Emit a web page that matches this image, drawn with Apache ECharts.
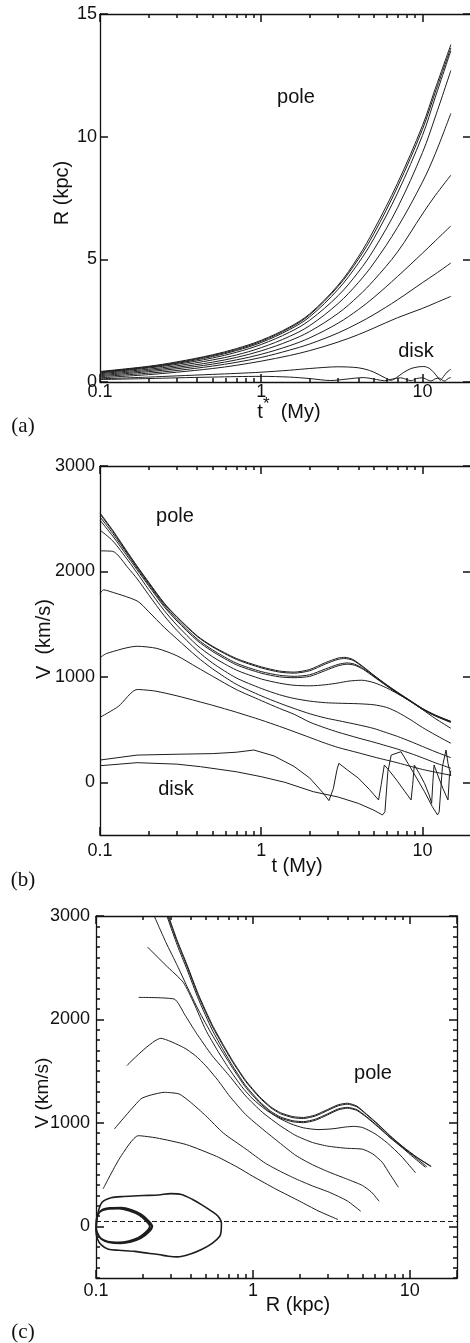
<!DOCTYPE html>
<html>
<head>
<meta charset="utf-8">
<script src="https://cdn.jsdelivr.net/npm/echarts@6/dist/echarts.min.js"></script>
<style>
  html, body { margin: 0; padding: 0; background: #ffffff; }
  #chart { width: 470px; height: 1343px; }
</style>
</head>
<body>
<div id="chart"></div>
<script>
// ---------- (a) distance R (kpc) against time t* (My) ----------
const aT = [0.1, 0.2, 0.3, 0.5, 0.7, 1, 1.5, 2, 3, 4, 5, 7, 10, 12, 15];
const aR1 = [0.43, 0.64, 0.82, 1.11, 1.36, 1.70, 2.24, 2.78, 3.95, 5.10, 6.20, 8.10, 10.45, 11.95, 13.75];
const aR2 = [0.41, 0.62, 0.79, 1.08, 1.32, 1.66, 2.20, 2.74, 3.90, 5.00, 6.05, 7.95, 10.30, 11.80, 13.62];
const aR3 = [0.39, 0.60, 0.76, 1.04, 1.28, 1.61, 2.14, 2.66, 3.78, 4.84, 5.85, 7.70, 10.05, 11.60, 13.50];
const aR4 = [0.37, 0.57, 0.72, 0.98, 1.21, 1.53, 2.03, 2.52, 3.52, 4.48, 5.40, 7.10, 9.35, 10.80, 12.70];
const aR5 = [0.34, 0.52, 0.66, 0.90, 1.10, 1.40, 1.86, 2.30, 3.20, 4.05, 4.85, 6.30, 8.15, 9.30, 10.95];
const aR6 = [0.30, 0.47, 0.60, 0.81, 1.00, 1.27, 1.68, 2.06, 2.80, 3.50, 4.15, 5.30, 6.85, 7.60, 8.43];
const aR7 = [0.26, 0.42, 0.54, 0.73, 0.90, 1.13, 1.48, 1.80, 2.40, 2.95, 3.45, 4.30, 5.25, 5.75, 6.36];
const aR8 = [0.22, 0.36, 0.47, 0.65, 0.80, 1.00, 1.30, 1.55, 2.00, 2.40, 2.75, 3.35, 4.05, 4.40, 4.85];
const aR9 = [0.17, 0.30, 0.40, 0.55, 0.68, 0.85, 1.08, 1.28, 1.63, 1.93, 2.20, 2.62, 3.00, 3.22, 3.49];
const aDisk1 = [[0.1,0.13],[0.2,0.2],[0.3,0.25],[0.5,0.31],[0.7,0.35],[1,0.4],[1.5,0.48],[2,0.55],[3,0.62],[4,0.58],[4.7,0.47],[5.3,0.32],[5.9,0.16],[6.4,0.07],[6.9,0.18],[7.6,0.38],[8.5,0.55],[9.5,0.62],[10.2,0.63],[11,0.56],[11.8,0.38],[12.4,0.2],[12.9,0.07],[13.5,0.22],[14.2,0.4],[15,0.52]];
const aDisk2 = [[0.1,0.1],[0.2,0.14],[0.3,0.17],[0.5,0.2],[0.7,0.22],[1,0.23],[1.5,0.2],[2,0.14],[2.7,0.06],[3.4,0.12],[4.3,0.18],[5.2,0.1],[5.8,0.05],[6.5,0.12],[7.3,0.17],[8,0.1],[8.5,0.05],[9.2,0.14],[10,0.17],[10.8,0.08],[11.3,0.04],[12,0.13],[12.7,0.16],[13.3,0.07],[13.8,0.04],[14.4,0.14],[15,0.18]];

// ---------- (b) velocity V (km/s) against time t (My) ----------
const bPole1 = [[0.1,2555],[0.12,2390],[0.15,2170],[0.17,2050],[0.2,1900],[0.25,1700],[0.3,1570],[0.4,1390],[0.5,1290],[0.7,1175],[1,1095],[1.3,1055],[1.6,1045],[2,1070],[2.5,1135],[3,1178],[3.3,1185],[3.7,1165],[4.3,1095],[5,1015],[6,925],[7,855],[8.5,770],[10,700],[12,638],[15,578]];
const bPole2 = [[0.1,2545],[0.12,2380],[0.15,2162],[0.17,2043],[0.2,1893],[0.25,1694],[0.3,1564],[0.4,1384],[0.5,1283],[0.7,1166],[1,1085],[1.3,1045],[1.6,1035],[2,1058],[2.5,1122],[3,1166],[3.3,1174],[3.7,1157],[4.3,1090],[5,1012],[6,922],[7,852],[8.5,768],[10,698],[12,636],[15,576]];
const bPole3 = [[0.1,2518],[0.12,2360],[0.15,2150],[0.17,2030],[0.2,1880],[0.25,1680],[0.3,1545],[0.4,1360],[0.5,1255],[0.7,1130],[1,1050],[1.3,1015],[1.6,1005],[2,1020],[2.5,1075],[3,1118],[3.4,1132],[3.8,1120],[4.3,1078],[5,1006],[6,918],[7,848],[8.5,765],[10,695],[12,632],[15,572]];
const bPole4 = [[0.1,2486],[0.12,2335],[0.15,2130],[0.17,2015],[0.2,1865],[0.25,1665],[0.3,1530],[0.4,1345],[0.5,1240],[0.7,1115],[1,1035],[1.3,1000],[1.6,992],[2,1005],[2.5,1060],[3,1105],[3.4,1120],[3.8,1110],[4.3,1070],[5,1000],[6,914],[7,844],[8.5,762],[10,692],[12,629],[15,567]];
const bPole5 = [[0.1,2392],[0.12,2290],[0.15,2100],[0.17,1985],[0.2,1830],[0.25,1630],[0.3,1490],[0.4,1300],[0.5,1190],[0.7,1065],[1,980],[1.3,940],[1.6,920],[2,915],[2.5,925],[3,942],[3.5,960],[4.2,968],[5,945],[6,895],[7,840],[8.5,765],[10,690],[12,605],[15,512]];
const bPole6 = [[0.1,2195],[0.12,2190],[0.15,2030],[0.17,1930],[0.2,1780],[0.25,1580],[0.3,1440],[0.4,1250],[0.5,1130],[0.7,990],[1,890],[1.3,830],[1.6,795],[2,770],[2.5,755],[3,750],[4,745],[5,735],[6,710],[7,665],[8.5,590],[10,520],[12,450],[15,370]];
const bPole7 = [[0.1,1790],[0.105,1825],[0.11,1820],[0.17,1720],[0.2,1620],[0.25,1470],[0.3,1360],[0.4,1190],[0.5,1075],[0.7,930],[1,820],[1.3,750],[1.6,700],[2,650],[2.5,610],[3,585],[4,545],[5,510],[6,470],[7,435],[8.5,385],[10,340],[12,290],[15,233]];
const bPole8 = [[0.1,1181],[0.11,1222],[0.17,1290],[0.225,1270],[0.3,1200],[0.4,1090],[0.5,1005],[0.7,880],[1,775],[1.3,700],[1.6,645],[2,570],[2.5,515],[3,475],[4,420],[5,380],[6,345],[7,315],[8.5,272],[10,232],[12,185],[15,133]];
const bPole9 = [[0.1,616],[0.13,720],[0.17,880],[0.22,865],[0.3,820],[0.4,770],[0.5,730],[0.7,665],[1,590],[1.3,530],[1.6,480],[2,425],[2.5,370],[3,330],[4,280],[5,240],[6,210],[7,185],[8.5,150],[10,122],[12,96],[15,66]];
const bDisk1 = [[0.1,211],[0.17,258],[0.3,266],[0.5,272],[0.7,285],[0.9,306],[1.2,250],[1.6,150],[2,40],[2.4,-95],[2.63,-174],[2.8,-60],[2.95,120],[3.03,180],[3.4,120],[4,40],[4.7,-70],[5.34,-168],[5.55,-20],[5.8,164],[6.3,100],[7,10],[7.8,-90],[8.5,-168],[8.7,-20],[8.9,164],[9.5,90],[10.3,-10],[11,-120],[11.4,-200],[11.6,0],[11.8,164],[12.5,60],[13.4,-60],[14.4,-168],[14.7,60],[15,110]];
const bDisk2 = [[0.1,157],[0.17,186],[0.3,172],[0.42,148],[0.7,100],[1,53],[1.4,0],[2.1,-89],[3,-140],[4,-200],[5,-265],[5.65,-310],[5.85,-280],[6.1,100],[6.4,258],[7.36,290],[8.2,170],[9.2,40],[10.3,-90],[11.5,-230],[12.4,-310],[12.7,-280],[13.3,150],[14,306],[14.4,180],[15,60]];

// ---------- (c) velocity V (km/s) against distance R (kpc) ----------
const cPole1 = [[0.29,3000],[0.33,2760],[0.38,2530],[0.45,2240],[0.55,1950],[0.65,1750],[0.75,1590],[0.9,1410],[1.1,1255],[1.3,1155],[1.5,1098],[1.8,1060],[2.1,1052],[2.5,1076],[3,1130],[3.5,1175],[4,1190],[4.6,1162],[5.3,1085],[6.3,985],[7.5,875],[9,772],[11,672],[13.7,580]];
const cPole2 = [[0.287,3000],[0.33,2745],[0.38,2515],[0.45,2225],[0.55,1935],[0.65,1737],[0.75,1578],[0.9,1400],[1.1,1245],[1.3,1146],[1.5,1088],[1.8,1050],[2.1,1042],[2.5,1066],[3,1120],[3.5,1165],[4,1180],[4.6,1155],[5.3,1080],[6.3,980],[7.5,871],[9,769],[11,669],[13.6,578]];
const cPole3 = [[0.283,3000],[0.33,2715],[0.38,2485],[0.45,2195],[0.55,1900],[0.65,1700],[0.75,1540],[0.9,1360],[1.1,1208],[1.3,1112],[1.5,1057],[1.8,1020],[2.1,1012],[2.5,1035],[3,1088],[3.5,1135],[4,1150],[4.6,1128],[5.3,1060],[6.3,964],[7.5,860],[9,762],[10.8,668],[12.9,574]];
const cPole4 = [[0.235,3000],[0.28,2740],[0.33,2520],[0.38,2320],[0.45,2090],[0.55,1850],[0.65,1670],[0.75,1520],[0.9,1343],[1.1,1195],[1.3,1100],[1.5,1046],[1.8,1010],[2.1,1002],[2.5,1025],[3,1078],[3.5,1125],[4,1142],[4.6,1120],[5.3,1054],[6.3,958],[7.5,855],[9,757],[10.6,664],[12.6,570]];
const cPole5 = [[0.213,2700],[0.28,2520],[0.36,2358],[0.42,2160],[0.5,1900],[0.6,1690],[0.7,1530],[0.85,1350],[1,1230],[1.2,1130],[1.45,1050],[1.75,990],[2.1,952],[2.6,935],[3.2,942],[3.9,960],[4.4,966],[5,955],[6,895],[7.2,805],[8.8,680],[10.9,516]];
const cPole6 = [[0.187,2213],[0.315,2197],[0.37,2040],[0.433,1875],[0.55,1650],[0.707,1456],[0.9,1260],[1.15,1102],[1.5,970],[1.88,877],[2.4,810],[3,775],[3.9,755],[5,745],[5.8,700],[6.67,619],[7.5,500],[8.47,377]];
const cPole7 = [[0.157,1553],[0.259,1817],[0.36,1730],[0.43,1650],[0.5,1553],[0.6,1410],[0.707,1263],[0.9,1080],[1.15,941],[1.5,800],[1.88,684],[2.4,595],[3.07,523],[4,455],[5,394],[5.7,330],[6.38,242]];
const cPole8 = [[0.131,941],[0.193,1231],[0.225,1270],[0.272,1295],[0.339,1279],[0.4,1200],[0.5,1070],[0.65,900],[0.9,748],[1.2,610],[1.5,530],[1.88,458],[2.4,390],[3.07,329],[4,245],[4.87,145]];
const cPole9 = [[0.111,362],[0.142,661],[0.186,876],[0.244,854],[0.378,789],[0.586,676],[0.8,570],[1,483],[1.4,360],[1.99,242],[2.6,150],[3.49,65]];
const cDiskOuter = [[0.101,40],[0.103,130],[0.109,230],[0.125,275],[0.15,288],[0.2,297],[0.25,303],[0.3,316],[0.35,308],[0.41,262],[0.47,210],[0.55,142],[0.6,97],[0.63,30],[0.628,-40],[0.615,-97],[0.55,-165],[0.47,-225],[0.4,-268],[0.33,-296],[0.29,-290],[0.25,-273],[0.2,-255],[0.177,-243],[0.14,-232],[0.12,-222],[0.108,-180],[0.102,-120],[0.1,-40],[0.101,40]];
const cDiskInner = [[0.1,0],[0.102,90],[0.107,150],[0.12,172],[0.142,177],[0.165,155],[0.191,113],[0.212,55],[0.226,0],[0.214,-55],[0.191,-113],[0.165,-148],[0.142,-161],[0.12,-152],[0.108,-120],[0.102,-60],[0.1,0],
  [0.101,70],[0.106,140],[0.118,166],[0.14,170],[0.162,150],[0.188,108],[0.208,52],[0.22,0],[0.209,-52],[0.187,-108],[0.162,-142],[0.14,-155],[0.119,-147],[0.107,-115],[0.101,-55],[0.1,0],
  [0.101,80],[0.108,155],[0.122,178],[0.145,182],[0.168,160],[0.194,117],[0.215,58],[0.229,0],[0.217,-58],[0.193,-117],[0.167,-152],[0.143,-166],[0.121,-157],[0.108,-124],[0.101,-62],[0.1,0]];
const cZeroLevel = 50;

// ---------- tick values ----------
const vMajorTicks = [0, 1000, 2000, 3000];

const INK = '#111111';
const SANS = '"Liberation Sans", Arial, sans-serif';
const SERIF = '"Liberation Serif", "DejaVu Serif", serif';
const X_MAX = 20;

const chart = echarts.init(document.getElementById('chart'), null, { renderer: 'canvas' });

// every axis gets its own fresh option objects
function tick(len, extra) {
  return Object.assign({ show: true, inside: true, length: len, lineStyle: { color: INK, width: 1.5 } }, extra || {});
}
function minor() {
  return { show: true, splitNumber: 9, length: 4, lineStyle: { color: INK, width: 1.5 } };
}
function frame() { return { show: true, onZero: false, lineStyle: { color: INK, width: 1.3 } }; }
function noGridLines() { return { show: true, lineStyle: { opacity: 0 } }; }
function labels(margin, extra) {
  return Object.assign({ show: true, margin: margin, fontFamily: SANS, fontSize: 18, color: INK,
    formatter: v => String(v) }, extra || {});
}

function xPair(g, labelMargin) {
  return [
    { type: 'log', logBase: 10, gridIndex: g, position: 'bottom', min: 0.1, max: X_MAX,
      axisLine: frame(), splitLine: noGridLines(), axisTick: tick(8), minorTick: minor(),
      axisLabel: labels(labelMargin, { showMaxLabel: false, showMinLabel: true }) },
    { type: 'log', logBase: 10, gridIndex: g, position: 'top', min: 0.1, max: X_MAX,
      axisLine: frame(), splitLine: noGridLines(), axisTick: tick(8), minorTick: minor(),
      axisLabel: { show: false } }
  ];
}

const xAxes = [].concat(xPair(0, 1), xPair(1, 7), xPair(2, 4));

const yAxes = [
  // (a)
  { type: 'value', gridIndex: 0, position: 'left', min: 0, max: 15, interval: 5,
    axisLine: frame(), splitLine: noGridLines(), axisTick: tick(8), axisLabel: labels(3) },
  { type: 'value', gridIndex: 0, position: 'right', min: 0, max: 15, interval: 5,
    axisLine: frame(), splitLine: noGridLines(), axisTick: tick(8), axisLabel: { show: false } },
  // (b)
  { type: 'value', gridIndex: 1, position: 'left', min: -500, max: 3000, interval: 500,
    axisLine: frame(), splitLine: noGridLines(), axisTick: tick(8, { customValues: vMajorTicks }),
    axisLabel: labels(5, { customValues: vMajorTicks }) },
  { type: 'value', gridIndex: 1, position: 'right', min: -500, max: 3000, interval: 500,
    axisLine: frame(), splitLine: noGridLines(), axisTick: tick(8, { customValues: vMajorTicks }),
    axisLabel: { show: false } },
  // (c)
  { type: 'value', gridIndex: 2, position: 'left', min: -500, max: 3000, interval: 500,
    axisLine: frame(), splitLine: noGridLines(), axisTick: tick(8, { customValues: vMajorTicks }),
    axisLabel: labels(6, { customValues: vMajorTicks }) },
  { type: 'value', gridIndex: 2, position: 'right', min: -500, max: 3000, interval: 500,
    axisLine: frame(), splitLine: noGridLines(), axisTick: tick(8, { customValues: vMajorTicks }),
    axisLabel: { show: false } },
  { type: 'value', gridIndex: 2, position: 'left', min: -500, max: 3000, interval: 100,
    axisLine: { show: false, onZero: false }, splitLine: noGridLines(), axisTick: tick(4), axisLabel: { show: false } },
  { type: 'value', gridIndex: 2, position: 'right', min: -500, max: 3000, interval: 100,
    axisLine: { show: false, onZero: false }, splitLine: noGridLines(), axisTick: tick(4), axisLabel: { show: false } }
];

function curve(data, panel, opts) {
  return Object.assign({
    type: 'line', data: data,
    xAxisIndex: panel * 2, yAxisIndex: panel === 0 ? 0 : (panel === 1 ? 2 : 4),
    showSymbol: false, symbol: 'none', silent: true, animation: false,
    lineStyle: { color: '#1d1d1d', width: 1 }, smooth: false
  }, opts || {});
}
const pair = (ts, vs) => ts.map((t, i) => [t, vs[i]]);

const series = [];
[aR1, aR2, aR3, aR4, aR5, aR6, aR7, aR8, aR9].forEach(r => series.push(curve(pair(aT, r), 0, { smooth: 0.35 })));
series.push(curve(aDisk1, 0, { smooth: 0.3 }));
series.push(curve(aDisk2, 0, { smooth: 0.3 }));

[bPole1, bPole2, bPole3, bPole4, bPole5, bPole6, bPole7, bPole8, bPole9].forEach(d => series.push(curve(d, 1, { smooth: 0.25 })));
series.push(curve(bDisk1, 1));
series.push(curve(bDisk2, 1));

[cPole1, cPole2, cPole3, cPole4, cPole5, cPole6, cPole7, cPole8, cPole9].forEach(d => series.push(curve(d, 2, { smooth: 0.2 })));
series.push(curve(cDiskOuter, 2, {
  smooth: 0.3, lineStyle: { color: '#1d1d1d', width: 1.6 },
  markLine: {
    silent: true, symbol: ['none', 'none'], animation: false,
    label: { show: false },
    lineStyle: { color: '#1d1d1d', width: 1, type: [5, 3] },
    data: [{ yAxis: cZeroLevel }]
  }
}));
series.push(curve(cDiskInner, 2, { smooth: 0.3, lineStyle: { color: '#1d1d1d', width: 1.6 } }));

function txt(text, x, y, font, rotation) {
  return { type: 'text', x: x, y: y, rotation: rotation || 0, silent: true,
    style: { text: text, font: font, fill: INK, align: 'center', verticalAlign: 'middle' } };
}
function richTxt(text, x, y, rich) {
  return { type: 'text', x: x, y: y, silent: true,
    style: { text: text, font: '20px ' + SANS, fill: INK, align: 'center', verticalAlign: 'middle', rich: rich } };
}
const ROT = Math.PI / 2;

chart.setOption({
  animation: false,
  backgroundColor: '#ffffff',
  grid: [
    { left: 100, top: 14, width: 371, height: 368, outerBoundsMode: 'none' },
    { left: 100, top: 466, width: 371, height: 369, outerBoundsMode: 'none' },
    { left: 96, top: 916, width: 361, height: 362, outerBoundsMode: 'none' }
  ],
  xAxis: xAxes,
  yAxis: yAxes,
  series: series,
  graphic: [
    // axis titles
    txt('R (kpc)', 62, 193, '20px ' + SANS, ROT),
    richTxt('{t|t}{s|*}{t|  (My)}', 289, 409, {
      t: { font: '20px ' + SANS, fill: INK, lineHeight: 26, verticalAlign: 'bottom' },
      s: { font: '17px ' + SANS, fill: INK, lineHeight: 14, verticalAlign: 'top' }
    }),
    txt('V  (km/s)', 44, 639, '20px ' + SANS, ROT),
    txt('t (My)', 297, 866, '20px ' + SANS),
    txt('V (km/s)', 43, 1093, '19px ' + SANS, ROT),
    txt('R (kpc)', 298, 1305, '20px ' + SANS),
    // annotations
    txt('pole', 296, 97, '20px ' + SANS),
    txt('disk', 416, 351, '20px ' + SANS),
    txt('pole', 175, 516, '20px ' + SANS),
    txt('disk', 176, 789, '20px ' + SANS),
    txt('pole', 373, 1073, '20px ' + SANS),
    txt('(a)', 23, 426, '21px ' + SERIF),
    txt('(b)', 23, 880, '21px ' + SERIF),
    txt('(c)', 23, 1332, '21px ' + SERIF)
  ]
});
</script>
</body>
</html>
